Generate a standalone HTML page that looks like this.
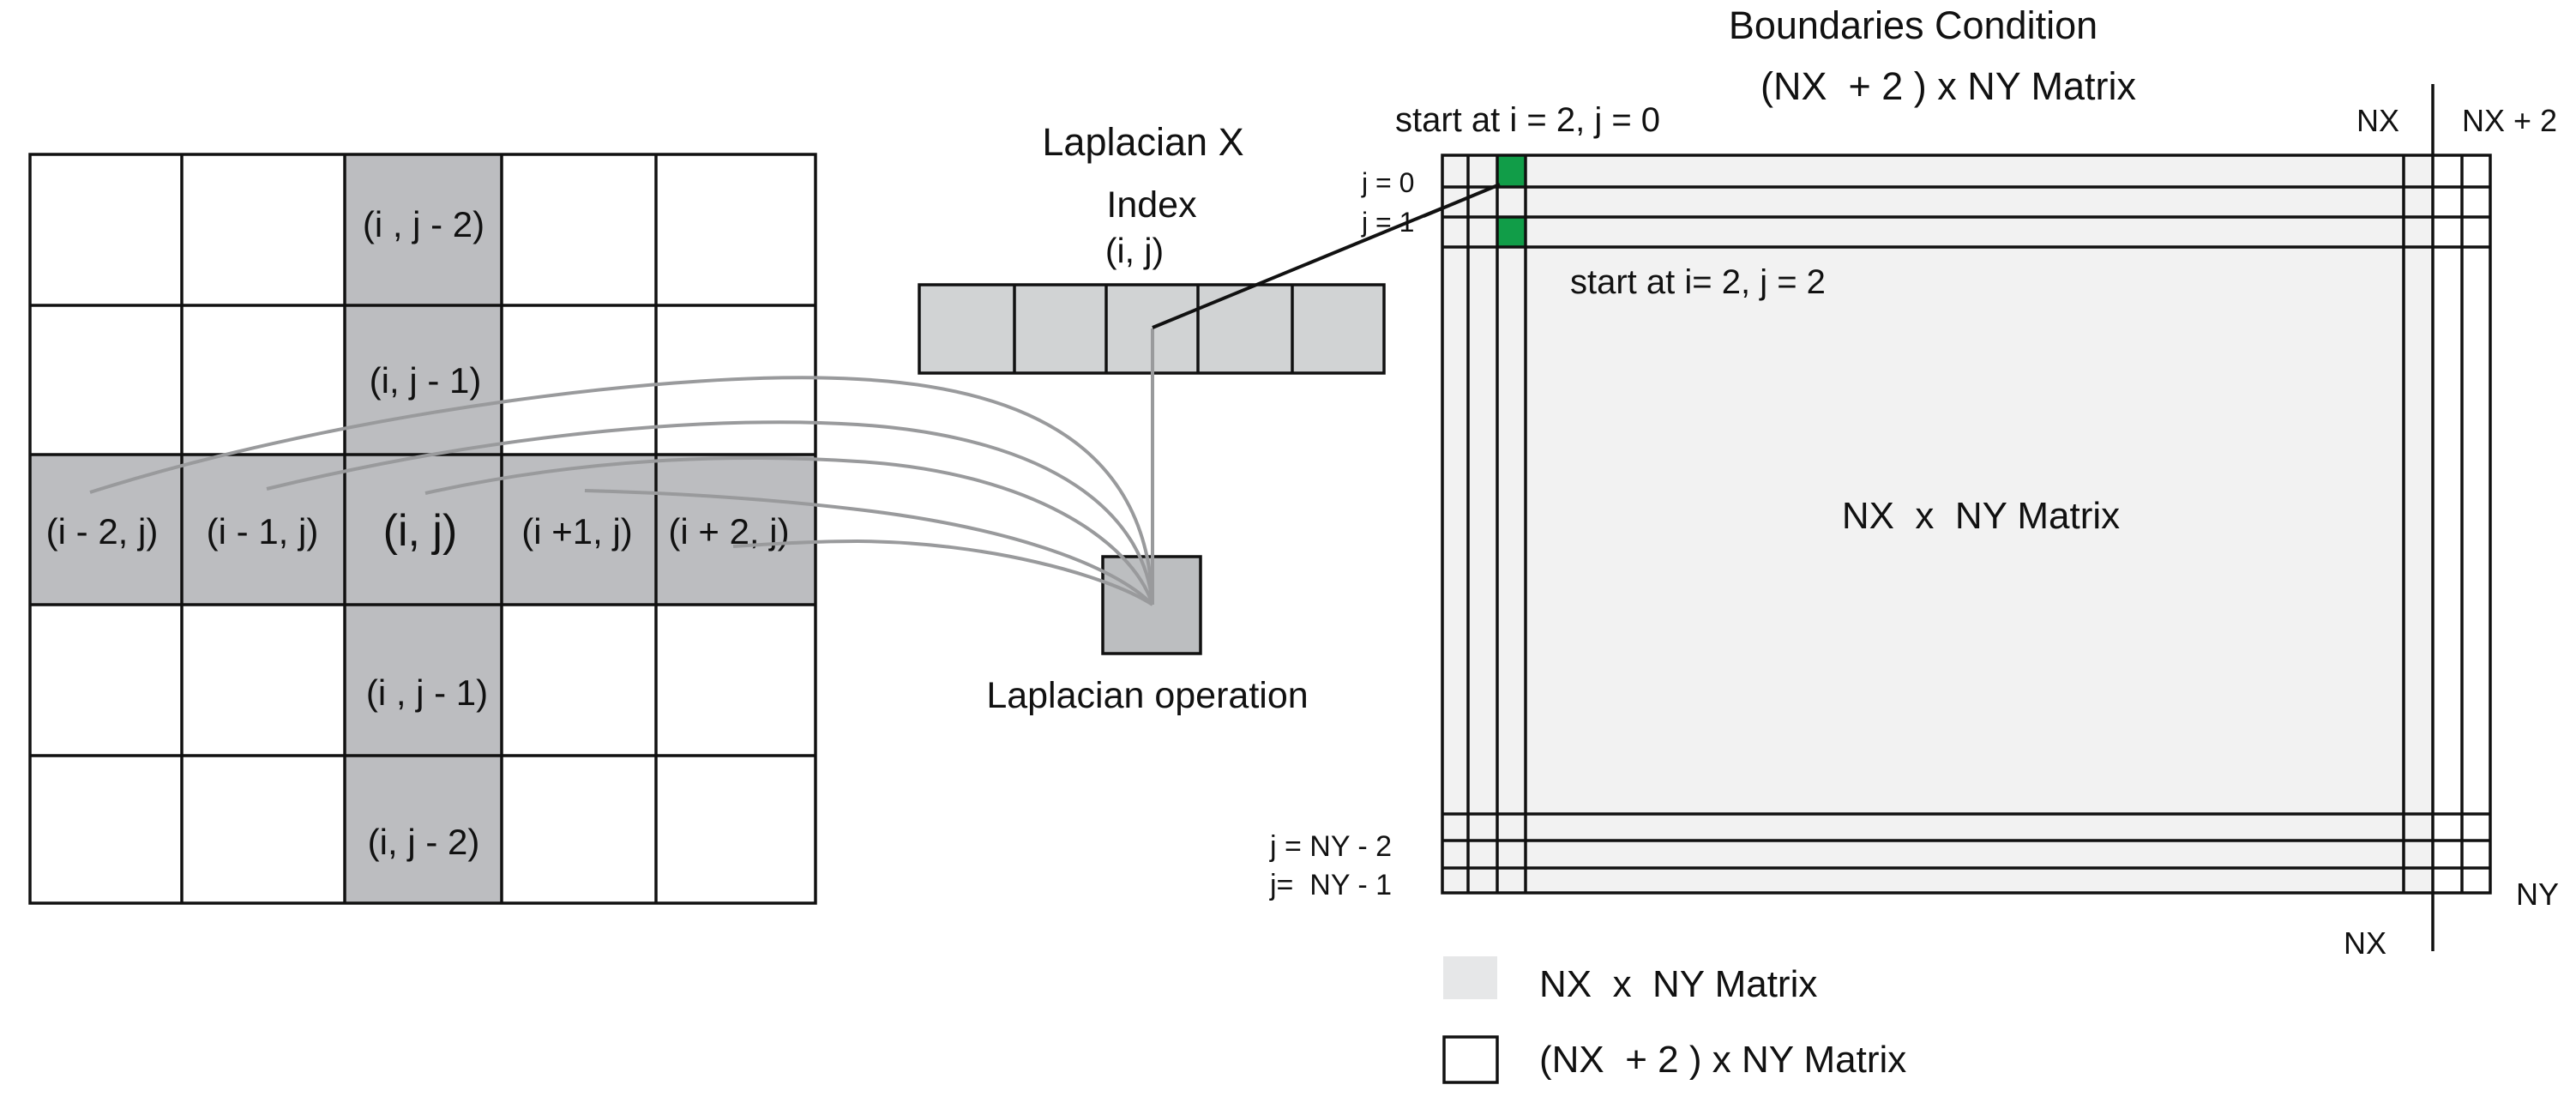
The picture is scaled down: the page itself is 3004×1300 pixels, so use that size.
<!DOCTYPE html>
<html><head><meta charset="utf-8"><style>html,body{margin:0;padding:0;background:#fff}svg{display:block}text{white-space:pre}</style></head>
<body>
<svg width="3004" height="1300" viewBox="0 0 3004 1300" xmlns="http://www.w3.org/2000/svg" xml:space="preserve" font-family="Liberation Sans, sans-serif" fill="#111">
<rect x="402" y="180" width="183" height="873" fill="#bcbdc0"/>
<rect x="35" y="530" width="916" height="175" fill="#bcbdc0"/>
<g stroke="#111" stroke-width="3.5" fill="none">
<rect x="35" y="180" width="916" height="873"/>
<line x1="212" y1="180" x2="212" y2="1053"/><line x1="402" y1="180" x2="402" y2="1053"/>
<line x1="585" y1="180" x2="585" y2="1053"/><line x1="765" y1="180" x2="765" y2="1053"/>
<line x1="35" y1="356" x2="951" y2="356"/><line x1="35" y1="530" x2="951" y2="530"/>
<line x1="35" y1="705" x2="951" y2="705"/><line x1="35" y1="881" x2="951" y2="881"/>
</g>
<g font-size="42" text-anchor="middle">
<text x="494" y="276">(i , j - 2)</text>
<text x="496" y="458">(i, j - 1)</text>
<text x="119" y="634">(i - 2, j)</text>
<text x="306" y="634">(i - 1, j)</text>
<text x="490" y="636" font-size="52">(i, j)</text>
<text x="673" y="634">(i +1, j)</text>
<text x="850" y="634">(i + 2, j)</text>
<text x="498" y="822">(i , j - 1)</text>
<text x="494" y="996">(i, j - 2)</text>
</g>
<rect x="1072" y="332" width="542" height="103" fill="#d1d3d4" stroke="#111" stroke-width="3.5"/>
<g stroke="#111" stroke-width="3.5"><line x1="1183" y1="332" x2="1183" y2="435"/><line x1="1290" y1="332" x2="1290" y2="435"/><line x1="1397" y1="332" x2="1397" y2="435"/><line x1="1507" y1="332" x2="1507" y2="435"/></g>
<rect x="1286" y="649" width="114" height="113" fill="#bcbec0" stroke="#111" stroke-width="3.5"/>
<g stroke="#999a9c" stroke-width="4" fill="none">
<path d="M105,574 C400,480 800,430 1000,442 C1250,455 1340,560 1344,705"/>
<path d="M311,570 C600,500 850,485 1000,495 C1230,510 1335,600 1344,705"/>
<path d="M496,575 C700,530 880,530 1000,538 C1200,550 1320,630 1344,705"/>
<path d="M682,572 C800,575 900,582 1000,594 C1180,615 1300,660 1344,705"/>
<path d="M855,637 C900,634 950,631 1000,631 C1150,632 1290,670 1344,705"/>
<line x1="1344" y1="383" x2="1344" y2="705"/>
</g>
<line x1="1344" y1="382" x2="1749" y2="215" stroke="#111" stroke-width="4"/>
<g text-anchor="middle">
<text x="1333" y="181" font-size="45">Laplacian X</text>
<text x="1343" y="253" font-size="43">Index</text>
<text x="1323" y="306" font-size="41">(i, j)</text>
<text x="1338" y="825" font-size="43">Laplacian operation</text>
</g>
<rect x="1682" y="181" width="1222" height="860" fill="#f2f2f2"/>
<rect x="2837" y="181" width="67" height="860" fill="#fff"/>
<rect x="1746" y="181" width="33" height="37" fill="#119d48"/>
<rect x="1746" y="253" width="33" height="35" fill="#119d48"/>
<g stroke="#111" stroke-width="3.5" fill="none">
<rect x="1682" y="181" width="1222" height="860"/>
<line x1="1712" y1="181" x2="1712" y2="1041"/><line x1="1746" y1="181" x2="1746" y2="1041"/><line x1="1779" y1="181" x2="1779" y2="1041"/>
<line x1="2803" y1="181" x2="2803" y2="1041"/><line x1="2871" y1="181" x2="2871" y2="1041"/>
<line x1="1682" y1="218" x2="2904" y2="218"/><line x1="1682" y1="253" x2="2904" y2="253"/><line x1="1682" y1="288" x2="2904" y2="288"/>
<line x1="1682" y1="949" x2="2904" y2="949"/><line x1="1682" y1="980" x2="2904" y2="980"/><line x1="1682" y1="1012" x2="2904" y2="1012"/>
<line x1="2837" y1="98" x2="2837" y2="1109"/>
</g>
<line x1="1749" y1="215" x2="1660" y2="252" stroke="#111" stroke-width="4"/>
<g font-size="45">
<text x="2231" y="45" text-anchor="middle">Boundaries Condition</text>
<text x="2272" y="116" text-anchor="middle">(NX  + 2 ) x NY Matrix</text>
<text x="1627" y="153" font-size="40">start at i = 2, j = 0</text>
<text x="2773" y="153" text-anchor="middle" font-size="36">NX</text>
<text x="2871" y="153" font-size="36">NX + 2</text>
<text x="1831" y="342" font-size="40">start at i= 2, j = 2</text>
<text x="2310" y="616" text-anchor="middle" font-size="44">NX  x  NY Matrix</text>
<text x="2934" y="1055" font-size="36">NY</text>
<text x="2758" y="1112" text-anchor="middle" font-size="36">NX</text>
<text x="1588" y="224" font-size="32">j = 0</text>
<text x="1588" y="270" font-size="32">j = 1</text>
<text x="1481" y="998" font-size="34">j = NY - 2</text>
<text x="1481" y="1043" font-size="34">j=  NY - 1</text>
</g>
<rect x="1683" y="1115" width="63" height="50" fill="#e6e7e8"/>
<rect x="1684" y="1209" width="62" height="53" fill="#fff" stroke="#111" stroke-width="3.5"/>
<g font-size="44"><text x="1795" y="1162">NX  x  NY Matrix</text><text x="1795" y="1250">(NX  + 2 ) x NY Matrix</text></g>
</svg>
</body></html>
